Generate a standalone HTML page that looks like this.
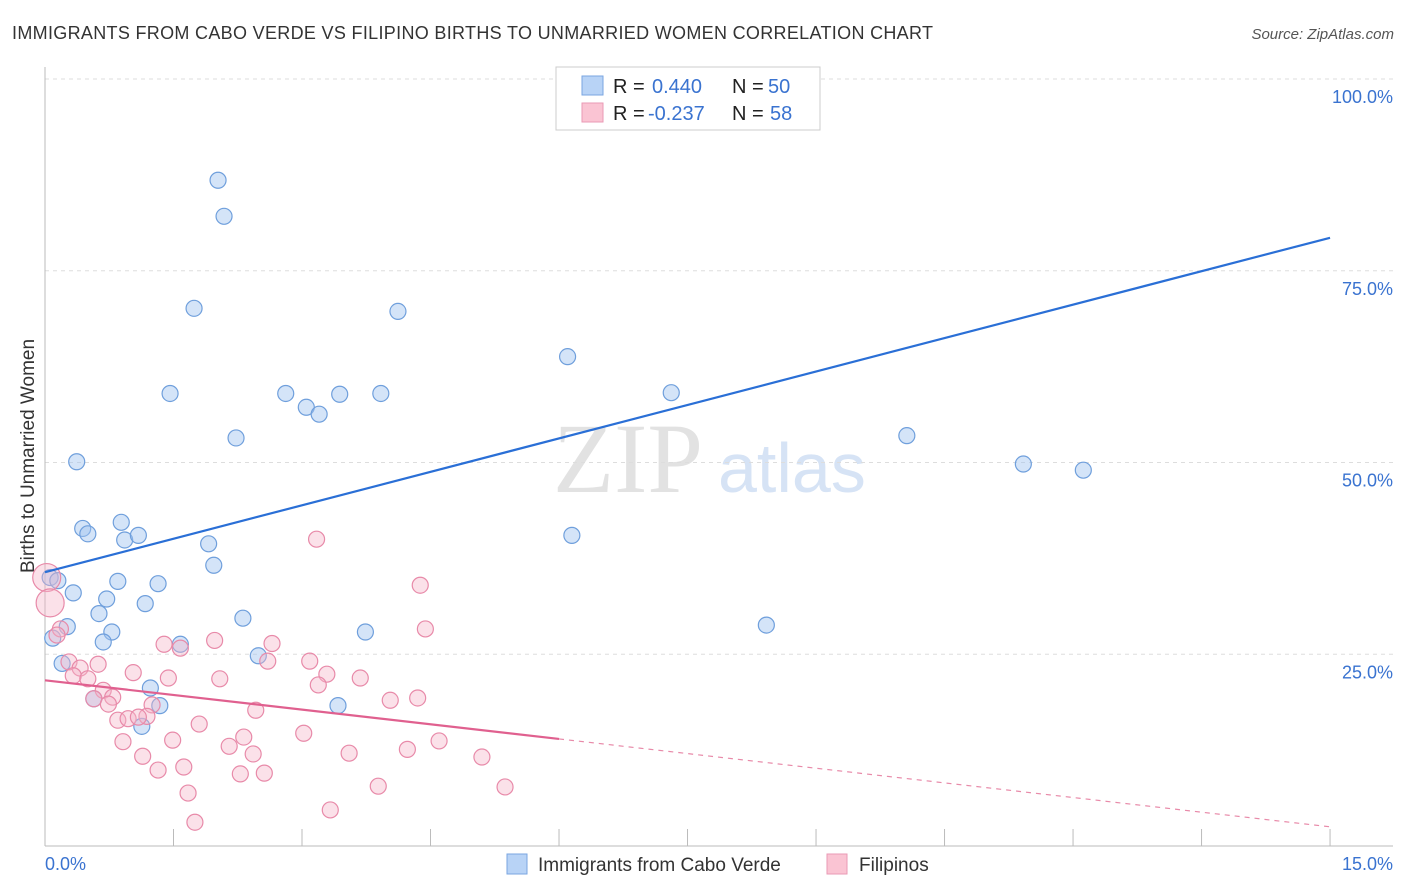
<!DOCTYPE html>
<html><head><meta charset="utf-8"><style>
body{margin:0;background:#fff;font-family:"Liberation Sans",sans-serif;}
svg{display:block}
</style></head><body>
<svg id="chart" width="1406" height="892">
<text x="12" y="39" font-size="18" fill="#333" textLength="921">IMMIGRANTS FROM CABO VERDE VS FILIPINO BIRTHS TO UNMARRIED WOMEN CORRELATION CHART</text>
<text x="1394" y="39" font-size="15" fill="#555" font-style="italic" text-anchor="end">Source: ZipAtlas.com</text>
<text x="34" y="456" font-size="19" fill="#333" text-anchor="middle" transform="rotate(-90 34 456)">Births to Unmarried Women</text>
<text x="553" y="492" font-size="100" fill="#e2e2e2" font-family="Liberation Serif,serif">ZIP</text>
<text x="718" y="492" font-size="70" fill="#d6e3f5">atlas</text>
<g id="grid"></g><g id="marks"></g>
<g>
<rect x="556" y="67" width="264" height="63" fill="#fff" stroke="#ccc"/>
<rect x="582" y="76" width="21" height="19" fill="#b8d3f6" stroke="#7aa6e0"/>
<rect x="582" y="103" width="21" height="19" fill="#fac4d3" stroke="#ea9ab4"/>
<text x="613" y="93" font-size="20" fill="#222">R = </text><text x="652" y="93" font-size="20" fill="#3a73d0">0.440</text>
<text x="732" y="93" font-size="20" fill="#222">N = </text><text x="768" y="93" font-size="20" fill="#3a73d0">50</text>
<text x="613" y="120" font-size="20" fill="#222">R = </text><text x="648" y="120" font-size="20" fill="#3a73d0">-0.237</text>
<text x="732" y="120" font-size="20" fill="#222">N = </text><text x="770" y="120" font-size="20" fill="#3a73d0">58</text>
</g>
<g>
<rect x="507" y="854" width="20" height="20" fill="#b8d3f6" stroke="#7aa6e0"/>
<text x="538" y="871" font-size="19" fill="#333">Immigrants from Cabo Verde</text>
<rect x="827" y="854" width="20" height="20" fill="#fac4d3" stroke="#ea9ab4"/>
<text x="859" y="871" font-size="19" fill="#333">Filipinos</text>
</g>
</svg>
<script>
const blueX=[2.02,2.09,1.74,4.12,1.46,2.81,3.44,3.92,3.05,3.20,2.23,6.10,7.31,10.06,11.42,12.12,0.37,0.44,0.50,0.89,0.93,1.09,1.91,6.15,1.97,0.85,1.32,0.06,0.15,0.33,0.72,1.17,0.63,2.31,0.78,0.26,0.68,1.58,0.09,3.74,8.42,2.49,0.20,1.23,0.57,1.34,1.13,3.42,7.46,8.60];
const blueY=[86.8,82.1,70.1,69.7,59.0,59.0,58.9,59.0,57.2,56.3,53.2,63.8,59.1,53.5,49.8,49.0,50.1,41.4,40.7,42.2,39.9,40.5,39.4,40.5,36.6,34.5,34.2,35.0,34.6,33.0,32.2,31.6,30.3,29.7,27.9,28.6,26.6,26.3,27.1,27.9,28.8,24.8,23.8,20.6,19.2,18.3,15.6,18.3,99.6,99.6];
const pinkX=[3.17,4.38,4.44,1.39,1.98,2.65,1.58,3.09,2.60,0.62,0.28,0.41,1.03,3.29,0.33,0.50,1.44,2.04,3.19,3.68,0.68,0.79,0.57,0.74,4.03,4.35,1.25,2.46,1.19,0.85,0.97,1.09,1.80,3.02,0.91,1.49,2.15,2.32,4.60,4.23,3.55,1.14,2.43,5.10,1.32,1.62,2.28,2.56,3.89,1.67,5.37,3.33,1.75,0.02,0.06,0.18,0.14];
const pinkY=[40.0,34.0,28.3,26.3,26.8,26.4,25.8,24.1,24.1,23.7,24.0,23.2,22.6,22.4,22.2,21.8,21.9,21.8,21.0,21.9,20.3,19.4,19.2,18.5,19.0,19.3,18.4,17.7,16.9,16.4,16.6,16.8,15.9,14.7,13.6,13.8,13.0,14.2,13.7,12.6,12.1,11.7,12.0,11.6,9.9,10.3,9.4,9.5,7.8,6.9,7.7,4.7,3.1,35.0,31.7,28.3,27.5];
const blueLine=[35.7,79.3];
const pinkLine=[21.6,2.5];
const pinkSolidEnd=6.0;
const yTicks=[25,50,75,100];
const yTickLabels=["25.0%","50.0%","75.0%","100.0%"];
const xTicks=[0,1.5,3,4.5,6,7.5,9,10.5,12,13.5,15];
const NS="http://www.w3.org/2000/svg";
const xs=v=>45+v*85.67, ys=v=>846-v*7.67;
function mk(t,a,p){const e=document.createElementNS(NS,t);for(const k in a)e.setAttribute(k,a[k]);p.appendChild(e);return e;}
const g=document.getElementById('grid'), m=document.getElementById('marks');
yTicks.forEach((t,i)=>{
 const l=mk('line',{x1:45,x2:1393,y1:ys(t),y2:ys(t),stroke:'#ddd','stroke-dasharray':'4,4'},g);
 
 
 const tx=mk('text',{x:1393,y:ys(t)+24,'font-size':18,fill:'#3a73d0','text-anchor':'end'},g);
 tx.textContent=yTickLabels[i];
 
 
});
const ax=mk('line',{x1:45,x2:45,y1:67,y2:846,stroke:'#bbb'},g);


const bx=mk('line',{x1:45,x2:1393,y1:846,y2:846,stroke:'#bbb'},g);


xTicks.forEach(t=>{const l=mk('line',{x1:xs(t),x2:xs(t),y1:829,y2:846,stroke:'#bbb'},g);
 
 });
const x0=mk('text',{x:45,y:870,'font-size':18,fill:'#3a73d0'},g);x0.textContent='0.0%';


const x1=mk('text',{x:1393,y:870,'font-size':18,fill:'#3a73d0','text-anchor':'end'},g);x1.textContent='15.0%';


blueX.forEach((v,i)=>{const c=mk('circle',{cx:xs(v),cy:ys(blueY[i]),r:8,fill:'rgba(160,196,240,0.45)',stroke:'#6f9fdc','stroke-width':1.2},m);
 
 });
pinkX.forEach((v,i)=>{const big=i>=53&&i<=54;const c=mk('circle',{cx:xs(v),cy:ys(pinkY[i]),r:big?14:8,fill:'rgba(246,180,200,0.4)',stroke:'#e88aa9','stroke-width':1.2},m);
 
 });
const bl=mk('line',{x1:xs(0),y1:ys(blueLine[0]),x2:xs(15),y2:ys(blueLine[1]),stroke:'#2a6fd6','stroke-width':2.2},m);


const pv=x=>pinkLine[0]+(pinkLine[1]-pinkLine[0])*x/15;
const pl=mk('line',{x1:xs(0),y1:ys(pv(0)),x2:xs(pinkSolidEnd),y2:ys(pv(pinkSolidEnd)),stroke:'#e0608f','stroke-width':2.2},m);


const pd=mk('line',{x1:xs(pinkSolidEnd),y1:ys(pv(pinkSolidEnd)),x2:xs(15),y2:ys(pv(15)),stroke:'#e88aa9','stroke-width':1.2,'stroke-dasharray':'5,5'},m);


</script>
</body></html>
